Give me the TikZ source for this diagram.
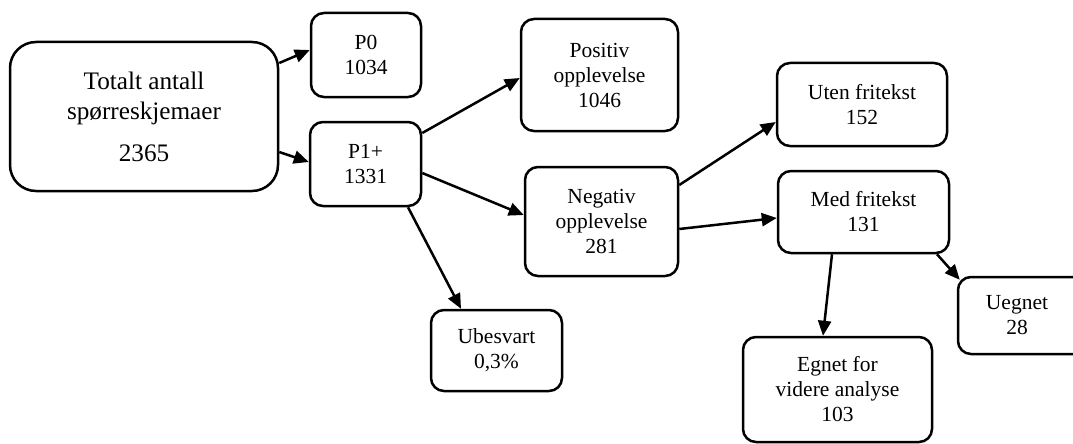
\documentclass[tikz,border=0pt]{standalone}
\usepackage{fontspec}
\setmainfont{Liberation Serif}
\usetikzlibrary{arrows.meta}
\begin{document}
\begin{tikzpicture}[x=1pt, y=-1pt,
    box/.style={draw, line width=2.5pt, rounded corners=13pt, align=center,
                inner sep=0pt, font=\fontsize{21.5}{25}\selectfont},
    arr/.style={-{Triangle[length=15pt,width=13pt]}, line width=2.5pt}
  ]
  \useasboundingbox (0,0) rectangle (1073,444);
  % Total
  \node[box, rounded corners=26pt, minimum width=268pt, minimum height=149pt,
        font=\fontsize{25.2}{30}\selectfont] (total) at (144,116.5) {%
    Totalt antall\\spørreskjemaer\\[12pt]2365};
  % First split
  \node[box, minimum width=110pt, minimum height=84pt] (pzero) at (366,55) {%
    P0\\1034};
  \node[box, minimum width=111pt, minimum height=84pt] (pone) at (365.5,164) {%
    P1+\\1331};
  % Experience
  \node[box, minimum width=157pt, minimum height=112pt] (positiv) at (599.5,75) {%
    Positiv\\opplevelse\\1046};
  \node[box, minimum width=153pt, minimum height=109pt] (negativ) at (601.5,221.5) {%
    Negativ\\opplevelse\\281};
  \node[box, minimum width=131pt, minimum height=81pt] (ubesvart) at (496.5,350.5) {%
    Ubesvart\\0,3\%};
  % Free text
  \node[box, minimum width=170pt, minimum height=83pt] (uten) at (862,104.5) {%
    Uten fritekst\\152};
  \node[box, minimum width=171pt, minimum height=82pt] (med) at (863.5,212) {%
    Med fritekst\\131};
  % Suitability (box runs past the right edge)
  \node[box, minimum width=189pt, minimum height=105pt] (egnet) at (837.5,389.5) {%
    Egnet for\\videre analyse\\103};
  \node[box, minimum width=136pt, minimum height=77pt] (uegnet) at (1026,315.5) {%
    \hbox{Uegnet\kern18pt}\\\hbox{28\kern18pt}};
  % Arrows
  \draw[arr] ([yshift=53.5pt]total.east) -- ([yshift=5pt]pzero.west);
  \draw[arr] ([yshift=-35.5pt]total.east) -- ([yshift=2pt]pone.west);
  \draw[arr] ([yshift=31pt]pone.east) -- ([yshift=-3pt]positiv.west);
  \draw[arr] ([yshift=-9pt]pone.east) -- ([yshift=6.5pt]negativ.west);
  \draw[arr] ([xshift=42.5pt]pone.south) -- ([xshift=-35.5pt]ubesvart.north);
  \draw[arr] ([yshift=36.5pt]negativ.east) -- ([yshift=-17.5pt]uten.west);
  \draw[arr] ([yshift=-7.5pt]negativ.east) -- ([yshift=-6pt]med.west);
  \draw[arr] ([xshift=-31.5pt]med.south) -- ([xshift=-14.5pt]egnet.north);
  \draw[arr] ([xshift=73.5pt]med.south) -- ([xshift=3pt,yshift=-4pt]uegnet.north west);
\end{tikzpicture}
\end{document}
